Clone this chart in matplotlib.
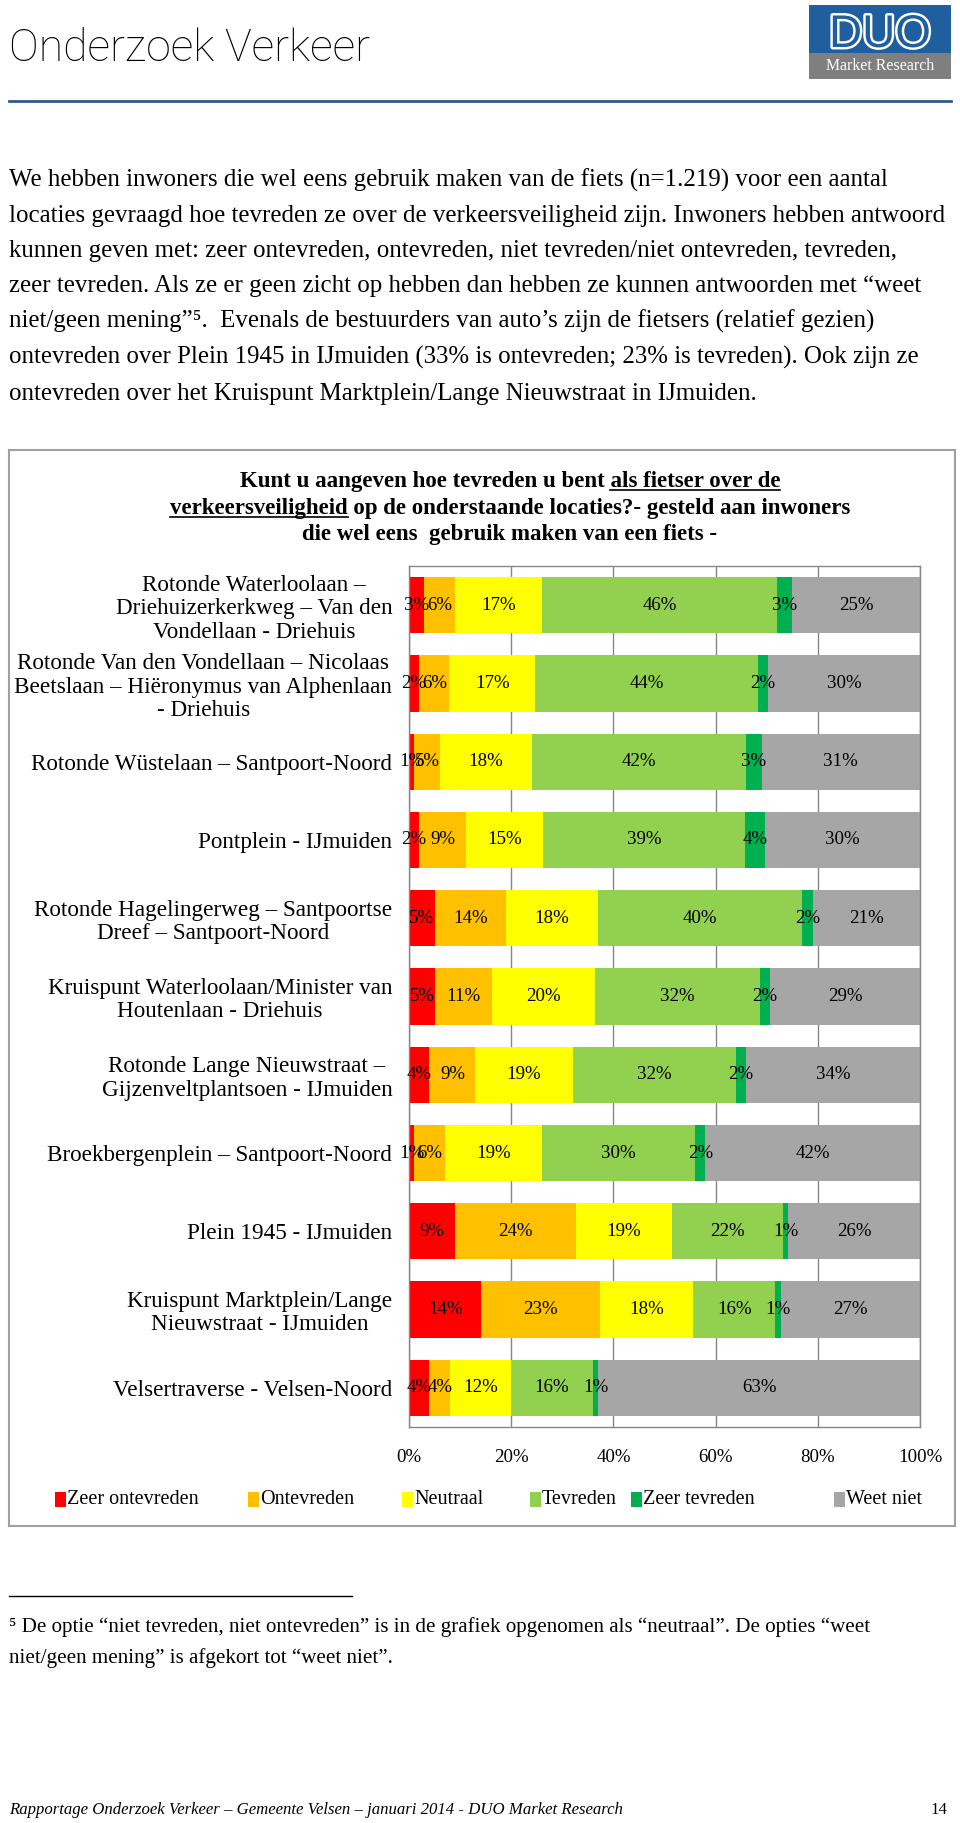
import matplotlib
matplotlib.use('Agg')
import matplotlib.pyplot as plt
from matplotlib.patches import Rectangle
from matplotlib.lines import Line2D
import matplotlib.patheffects as pe
import numpy as np

# ---------------- data ----------------
locations = [
    "Rotonde Waterloolaan –\nDriehuizerkerkweg – Van den\nVondellaan - Driehuis",
    "Rotonde Van den Vondellaan – Nicolaas\nBeetslaan – Hiëronymus van Alphenlaan\n- Driehuis",
    "Rotonde Wüstelaan – Santpoort-Noord",
    "Pontplein - IJmuiden",
    "Rotonde Hagelingerweg – Santpoortse\nDreef – Santpoort-Noord",
    "Kruispunt Waterloolaan/Minister van\nHoutenlaan - Driehuis",
    "Rotonde Lange Nieuwstraat –\nGijzenveltplantsoen - IJmuiden",
    "Broekbergenplein – Santpoort-Noord",
    "Plein 1945 - IJmuiden",
    "Kruispunt Marktplein/Lange\nNieuwstraat - IJmuiden",
    "Velsertraverse - Velsen-Noord",
]
zeer_ontevreden = [3, 2, 1, 2, 5, 5, 4, 1, 9, 14, 4]
ontevreden      = [6, 6, 5, 9, 14, 11, 9, 6, 24, 23, 4]
neutraal        = [17, 17, 18, 15, 18, 20, 19, 19, 19, 18, 12]
tevreden        = [46, 44, 42, 39, 40, 32, 32, 30, 22, 16, 16]
zeer_tevreden   = [3, 2, 3, 4, 2, 2, 2, 2, 1, 1, 1]
weet_niet       = [25, 30, 31, 30, 21, 29, 34, 42, 26, 27, 63]
series_names = ["Zeer ontevreden", "Ontevreden", "Neutraal", "Tevreden",
                "Zeer tevreden", "Weet niet"]
series_colors = ["#FF0000", "#FFC000", "#FFFF00", "#92D050", "#00B050", "#A6A6A6"]
x_ticks = [0, 20, 40, 60, 80, 100]

page_title = "Onderzoek Verkeer"
paragraph = [
    "We hebben inwoners die wel eens gebruik maken van de fiets (n=1.219) voor een aantal",
    "locaties gevraagd hoe tevreden ze over de verkeersveiligheid zijn. Inwoners hebben antwoord",
    "kunnen geven met: zeer ontevreden, ontevreden, niet tevreden/niet ontevreden, tevreden,",
    "zeer tevreden. Als ze er geen zicht op hebben dan hebben ze kunnen antwoorden met “weet",
    "niet/geen mening”⁵.  Evenals de bestuurders van auto’s zijn de fietsers (relatief gezien)",
    "ontevreden over Plein 1945 in IJmuiden (33% is ontevreden; 23% is tevreden). Ook zijn ze",
    "ontevreden over het Kruispunt Marktplein/Lange Nieuwstraat in IJmuiden.",
]
chart_title = [
    "Kunt u aangeven hoe tevreden u bent als fietser over de",
    "verkeersveiligheid op de onderstaande locaties?- gesteld aan inwoners",
    "die wel eens  gebruik maken van een fiets -",
]
footnote = [
    "⁵ De optie “niet tevreden, niet ontevreden” is in de grafiek opgenomen als “neutraal”. De opties “weet",
    "niet/geen mening” is afgekort tot “weet niet”.",
]
footer = "Rapportage Onderzoek Verkeer – Gemeente Velsen – januari 2014 - DUO Market Research"
page_no = "14"

# ---------------- setup ----------------
W, H, DPI = 960, 1823, 100
SERIF = ['Liberation Serif', 'DejaVu Serif']
plt.rcParams['font.family'] = SERIF
fig = plt.figure(figsize=(W / DPI, H / DPI), dpi=DPI)
fig.patch.set_facecolor('white')
renderer = fig.canvas.get_renderer()


def fx(x):
    return x / W


def fy(y):
    return 1 - y / H


def measure(s, size, **kw):
    t = fig.text(0, 0, s, fontsize=size, **kw)
    w = t.get_window_extent(renderer).width
    t.remove()
    return w


def fit(s, target, **kw):
    return 20 * target / measure(s, 20, **kw)


# ---------------- header ----------------
tfam = ['Roboto', 'DejaVu Sans']
ttl_size = fit(page_title, 362, family=tfam, fontweight='light')
fig.text(fx(9), fy(61), page_title, fontsize=ttl_size, family=tfam,
         fontweight='light', va='baseline', ha='left', color='black')
fig.add_artist(Line2D([fx(9), fx(951)], [fy(101), fy(101)], color='#2E5C8A', lw=2))
# logo
fig.add_artist(Rectangle((fx(809), fy(53)), fx(142), 48 / H, facecolor='#1F5F9F',
                         edgecolor='none'))
fig.add_artist(Rectangle((fx(809), fy(79)), fx(142), 26 / H, facecolor='#7F7F7F',
                         edgecolor='none'))
lfam = ['Liberation Sans Narrow', 'Liberation Sans']
fig.text(fx(880), fy(47), "DUO", fontsize=33, color='#1F5F9F', ha='center',
         va='baseline', family=lfam,
         path_effects=[pe.Stroke(linewidth=3.5, foreground='white'), pe.Normal()])
fig.text(fx(880), fy(66.5), "Market Research", fontsize=fit("Market Research", 108),
         color='white', ha='center', va='center', family=SERIF)

# ---------------- paragraph ----------------
psize = fit(paragraph[0], 878)
pcenters = [181, 216, 251, 286, 322, 358, 394]
for line, yc in zip(paragraph, pcenters):
    fig.text(fx(9), fy(yc + 6), line, fontsize=psize, va='baseline', ha='left')

# ---------------- chart frame ----------------
fig.add_artist(Rectangle((fx(9), fy(1526)), fx(946), (1526 - 450) / H, facecolor='none',
                         edgecolor='#A0A0A0', lw=1.5))

# chart title with underlines
tsize = fit(chart_title[1], 681, fontweight='bold')
tcx = 510
tbase = [487, 514, 540]
for i, (line, yb) in enumerate(zip(chart_title, tbase)):
    t = fig.text(fx(tcx), fy(yb), line, fontsize=tsize, fontweight='bold', ha='center',
                 va='baseline')
    bb = t.get_window_extent(renderer)
    if i == 0:
        wseg = measure("als fietser over de", tsize, fontweight='bold')
        x0, x1 = bb.x1 - wseg, bb.x1
    elif i == 1:
        wseg = measure("verkeersveiligheid", tsize, fontweight='bold')
        x0, x1 = bb.x0, bb.x0 + wseg
    else:
        continue
    fig.add_artist(Line2D([x0 / W, x1 / W], [fy(yb + 3), fy(yb + 3)], color='black', lw=1.2))

# ---------------- bar chart ----------------
ax = fig.add_axes([fx(409), fy(1427), (920 - 409) / W, (1427 - 566) / H])
data = np.array([zeer_ontevreden, ontevreden, neutraal, tevreden, zeer_tevreden, weet_niet],
                dtype=float)
norm = data / data.sum(axis=0) * 100
ypos = np.arange(len(locations))
left = np.zeros(len(locations))
lsize = fit("100%", 44)
for k in range(len(series_names)):
    ax.barh(ypos, norm[k], left=left, height=0.72, color=series_colors[k],
            edgecolor='none', zorder=2)
    for i in range(len(locations)):
        ax.text(left[i] + norm[k, i] / 2, ypos[i], f"{int(data[k, i])}%", ha='center',
                va='center', fontsize=lsize, color='black', zorder=3)
    left += norm[k]

ax.set_xlim(0, 100)
ax.set_ylim(len(locations) - 0.5, -0.5)
ax.set_xticks(x_ticks)
ax.set_xticklabels([f"{v}%" for v in x_ticks], fontsize=lsize)
ax.tick_params(axis='x', length=0, pad=16)
ax.set_yticks(ypos)
csize = fit("Rotonde Wüstelaan – Santpoort-Noord", 360)
ax.set_yticklabels(locations, fontsize=csize)
for tl in ax.get_yticklabels():
    tl.set_multialignment('center')
    tl.set_linespacing(1.15)
ax.tick_params(axis='y', length=0, pad=12)
ax.xaxis.grid(True, color='#868686', lw=1)
ax.set_axisbelow(True)
for sp in ax.spines.values():
    sp.set_color('#868686')
    sp.set_linewidth(1)

# ---------------- legend ----------------
gsize = fit("Zeer ontevreden", 131)
leg_x = [55, 248, 402, 530, 631, 834]
leg_y = 1499
for name, col, xl in zip(series_names, series_colors, leg_x):
    fig.add_artist(Rectangle((fx(xl), fy(leg_y + 8)), 11 / W, 15 / H, facecolor=col,
                             edgecolor='none'))
    fig.text(fx(xl + 12), fy(leg_y), name, fontsize=gsize, ha='left', va='center')

# ---------------- footnote ----------------
fig.add_artist(Line2D([fx(9), fx(352)], [fy(1596), fy(1596)], color='black', lw=1))
fsize = fit(footnote[0], 860)
for line, yc in zip(footnote, [1627, 1658]):
    fig.text(fx(9), fy(yc + 5), line, fontsize=fsize, ha='left', va='baseline')

# ---------------- footer ----------------
osize = fit(footer, 616, fontstyle='italic')
fig.text(fx(9), fy(1814), footer, fontsize=osize, fontstyle='italic', ha='left',
         va='baseline')
fig.text(fx(947), fy(1814), page_no, fontsize=osize, ha='right', va='baseline')

fig.savefig('out.png', dpi=DPI)
